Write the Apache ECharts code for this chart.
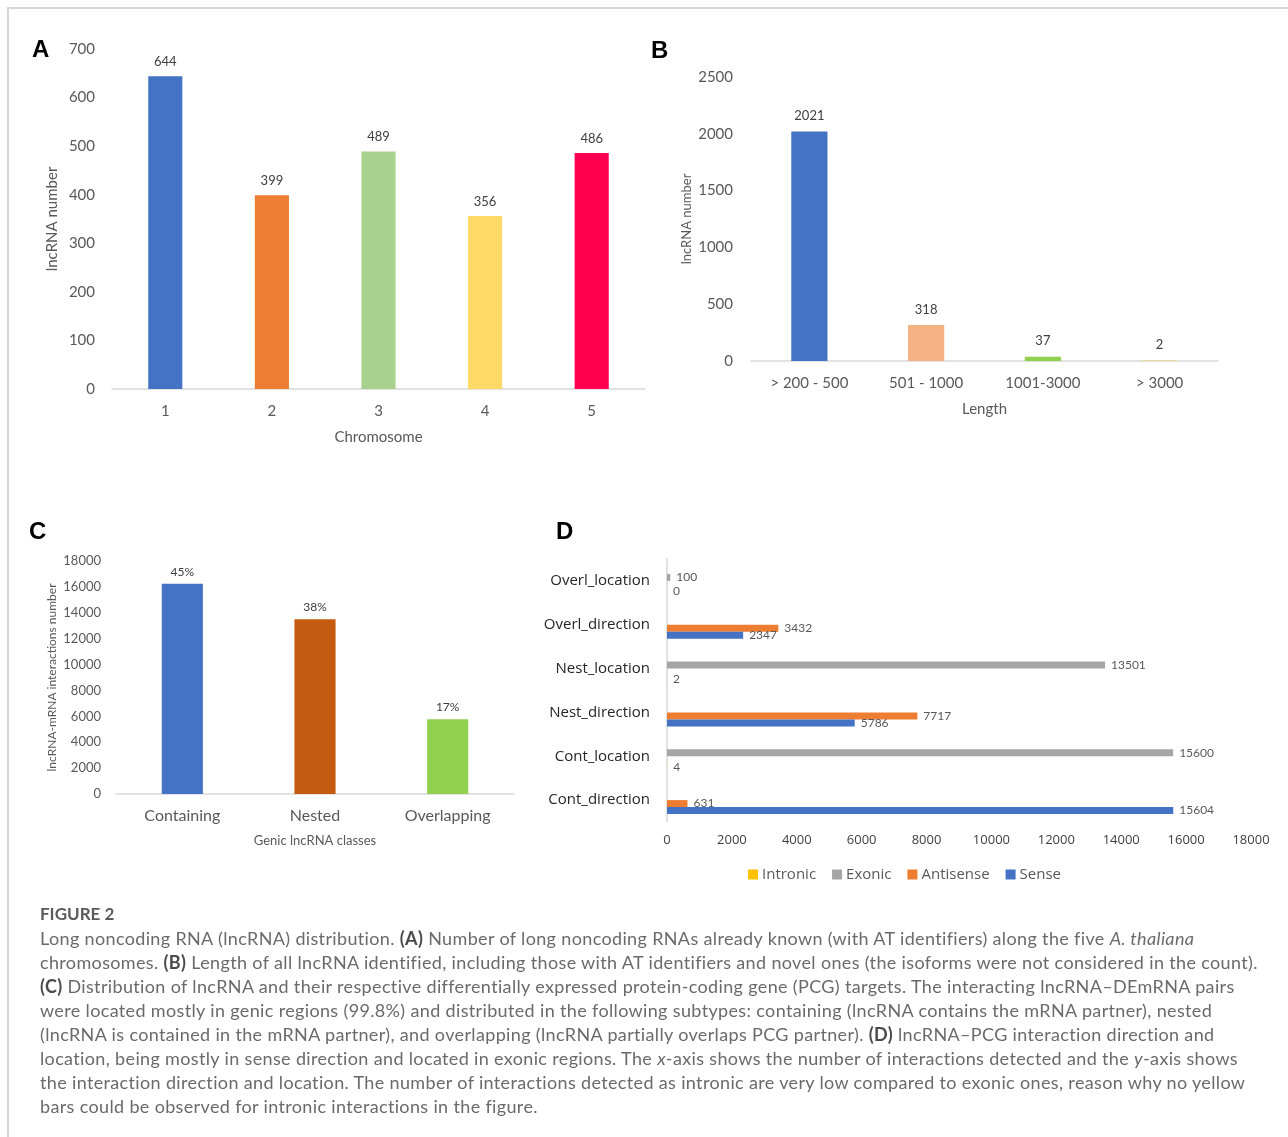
<!DOCTYPE html>
<html>
<head>
<meta charset="utf-8">
<script src="https://cdn.jsdelivr.net/npm/echarts@6/dist/echarts.min.js"></script>
<style>
  html, body { margin: 0; padding: 0; background: #fff; }
  #wrap { position: relative; width: 1288px; height: 1137px; overflow: hidden; }
  #frame { position: absolute; left: 7px; top: 7px; right: -10px; bottom: -10px;
           border-left: 2px solid #d6d6d6; border-top: 2px solid #d6d6d6; }
  #chart { position: absolute; left: 0; top: 0; width: 1288px; height: 1137px; }
  #caption { position: absolute; left: 40px; top: 902px; font-family: Lato, sans-serif;
             font-size: 18px; letter-spacing: 0.35px; line-height: 24px; color: #6a6a6a; white-space: nowrap; }
  #caption .fig { font-weight: 700; color: #5a5a5a; letter-spacing: 0; font-size: 17px; }
  #caption b { color: #4a4a4a; }
</style>
</head>
<body>
<div id="wrap">
  <div id="frame"></div>
  <div id="chart"></div>
  <div id="caption">
    <div class="fig">FIGURE 2</div>
    <div>Long noncoding RNA (lncRNA) distribution. <b>(A)</b> Number of long noncoding RNAs already known (with AT identifiers) along the five <i>A. thaliana</i></div>
    <div>chromosomes. <b>(B)</b> Length of all lncRNA identified, including those with AT identifiers and novel ones (the isoforms were not considered in the count).</div>
    <div><b>(C)</b> Distribution of lncRNA and their respective differentially expressed protein-coding gene (PCG) targets. The interacting lncRNA–DEmRNA pairs</div>
    <div>were located mostly in genic regions (99.8%) and distributed in the following subtypes: containing (lncRNA contains the mRNA partner), nested</div>
    <div>(lncRNA is contained in the mRNA partner), and overlapping (lncRNA partially overlaps PCG partner). <b>(D)</b> lncRNA–PCG interaction direction and</div>
    <div>location, being mostly in sense direction and located in exonic regions. The <i>x</i>-axis shows the number of interactions detected and the <i>y</i>-axis shows</div>
    <div>the interaction direction and location. The number of interactions detected as intronic are very low compared to exonic ones, reason why no yellow</div>
    <div>bars could be observed for intronic interactions in the figure.</div>
  </div>
</div>
<script>
// Panel A: lncRNAs per chromosome
const chromosomes = ['1', '2', '3', '4', '5'];
const chromosomeCounts = [644, 399, 489, 356, 486];
const chromosomeTicks = [0, 100, 200, 300, 400, 500, 600, 700];

// Panel B: lncRNA length classes
const lengthBins = ['> 200 - 500', '501 - 1000', '1001-3000', '> 3000'];
const lengthCounts = [2021, 318, 37, 2];
const lengthTicks = [0, 500, 1000, 1500, 2000, 2500];

// Panel C: genic lncRNA classes
const genicClasses = ['Containing', 'Nested', 'Overlapping'];
const genicInteractions = [16235, 13503, 5779];
const genicShares = ['45%', '38%', '17%'];
const genicTicks = [0, 2000, 4000, 6000, 8000, 10000, 12000, 14000, 16000, 18000];

// Panel D: interaction direction and location (top to bottom)
const interactionTypes = ['Overl_location', 'Overl_direction', 'Nest_location',
                          'Nest_direction', 'Cont_location', 'Cont_direction'];
const intronic  = [0, null, 2, null, 4, null];
const exonic    = [100, null, 13501, null, 15600, null];
const antisense = [null, 3432, null, 7717, null, 631];
const sense     = [null, 2347, null, 5786, null, 15604];
const interactionTicks = [0, 2000, 4000, 6000, 8000, 10000, 12000, 14000, 16000, 18000];

const colorsA = ['#4472C4', '#ED7D31', '#A9D18E', '#FFD966', '#FF0050'];
const colorsB = ['#4472C4', '#F4B183', '#92D050', '#FFC000'];
const colorsC = ['#4472C4', '#C55A11', '#92D050'];
const colD = { intronic: '#FFC000', exonic: '#A5A5A5', antisense: '#ED7D31', sense: '#4472C4' };

const FONT = 'Lato, sans-serif';
const FONT_D = '"Open Sans", sans-serif';
const tickGrey = '#595959';
const axisGrey = '#d9d9d9';
const plain = v => String(v);

function colored(values, colors) {
  return values.map((v, i) => ({ value: v, itemStyle: { color: colors[i] } }));
}
function range(ticks) {
  return { min: ticks[0], max: ticks[ticks.length - 1], interval: ticks[1] - ticks[0] };
}

function catAxis(gridIndex, data, opts) {
  return Object.assign({
    type: 'category', gridIndex, data,
    axisLine: { show: true, lineStyle: { color: axisGrey, width: 1.5 } },
    axisTick: { show: false },
    axisLabel: { color: tickGrey, fontFamily: FONT, fontSize: 15, margin: 15 },
    nameLocation: 'middle',
    nameTextStyle: { color: tickGrey, fontFamily: FONT, fontSize: 15 }
  }, opts);
}
function valAxis(gridIndex, ticks, opts) {
  const axis = Object.assign({
    type: 'value', gridIndex
  }, range(ticks), {
    axisLine: { show: false }, axisTick: { show: false }, splitLine: { show: false },
    axisLabel: { color: tickGrey, fontFamily: FONT, fontSize: 15, margin: 17 },
    nameLocation: 'middle',
    nameTextStyle: { color: tickGrey, fontFamily: FONT, fontSize: 15 }
  }, opts);
  axis.axisLabel = Object.assign({}, axis.axisLabel, { formatter: plain });
  return axis;
}

const chart = echarts.init(document.getElementById('chart'), null, { renderer: 'canvas' });

const panelLetter = (text, x, y) => ({
  type: 'text', left: x, top: y,
  style: { text, font: 'bold 24px "Liberation Sans", Arial, sans-serif', fill: '#000' }
});

chart.setOption({
  animation: false,
  textStyle: { fontFamily: FONT },
  graphic: [
    panelLetter('A', 32, 38),
    panelLetter('B', 651, 39),
    panelLetter('C', 29, 520),
    panelLetter('D', 556, 520)
  ],
  grid: [
    { left: 112, top: 49, width: 533, height: 340 },
    { left: 751, top: 77, width: 467, height: 284 },
    { left: 116, top: 561, width: 398, height: 233 },
    { left: 667, top: 559, width: 584, height: 263 }
  ],
  xAxis: [
    catAxis(0, chromosomes, { name: 'Chromosome', nameGap: 41 }),
    catAxis(1, lengthBins, { name: 'Length', nameGap: 41 }),
    catAxis(2, genicClasses, {
      name: 'Genic lncRNA classes', nameGap: 40,
      axisLabel: { color: tickGrey, fontFamily: FONT, fontSize: 16, margin: 14 },
      nameTextStyle: { color: tickGrey, fontFamily: FONT, fontSize: 13 }
    }),
    valAxis(3, interactionTicks, {
      axisLabel: { color: '#404040', fontFamily: FONT_D, fontSize: 13, margin: 12 }
    })
  ],
  yAxis: [
    valAxis(0, chromosomeTicks, { name: 'lncRNA number', nameGap: 52 }),
    valAxis(1, lengthTicks, {
      name: 'lncRNA number', nameGap: 58,
      axisLabel: { color: tickGrey, fontFamily: FONT, fontSize: 15, margin: 18 },
      nameTextStyle: { color: tickGrey, fontFamily: FONT, fontSize: 13 }
    }),
    valAxis(2, genicTicks, {
      name: 'lncRNA-mRNA interactions number', nameGap: 58,
      axisLabel: { color: tickGrey, fontFamily: FONT, fontSize: 13, margin: 15 },
      nameTextStyle: { color: tickGrey, fontFamily: FONT, fontSize: 12 }
    }),
    {
      type: 'category', gridIndex: 3, data: interactionTypes, inverse: true,
      axisLine: { show: true, lineStyle: { color: axisGrey, width: 1.5 } },
      axisTick: { show: false },
      axisLabel: { color: '#262626', fontFamily: FONT_D, fontSize: 15, margin: 17 }
    }
  ],
  legend: {
    left: 743, top: 862, itemWidth: 10, itemHeight: 10, itemGap: 16, icon: 'rect',
    data: ['Intronic', 'Exonic', 'Antisense', 'Sense'],
    textStyle: { color: tickGrey, fontFamily: FONT_D, fontSize: 15, padding: [0, 0, 0, -1] }
  },
  series: [
    {
      type: 'bar', xAxisIndex: 0, yAxisIndex: 0, barWidth: '32%',
      data: colored(chromosomeCounts, colorsA),
      label: { show: true, position: 'top', distance: 8, color: '#404040', fontFamily: FONT, fontSize: 13 }
    },
    {
      type: 'bar', xAxisIndex: 1, yAxisIndex: 1, barWidth: '31%',
      data: colored(lengthCounts, colorsB),
      label: { show: true, position: 'top', distance: 9, color: '#404040', fontFamily: FONT, fontSize: 13 }
    },
    {
      type: 'bar', xAxisIndex: 2, yAxisIndex: 2, barWidth: '31%',
      data: colored(genicInteractions, colorsC),
      label: {
        show: true, position: 'top', distance: 6, color: '#404040', fontFamily: FONT, fontSize: 12,
        formatter: p => genicShares[p.dataIndex]
      }
    },
    // Panel D: four slots per row, top slot left free
    {
      name: '_spacer', type: 'bar', xAxisIndex: 3, yAxisIndex: 3, barWidth: 7, barGap: '0%',
      data: interactionTypes.map(() => null)
    },
    {
      name: 'Exonic', type: 'bar', xAxisIndex: 3, yAxisIndex: 3, barWidth: 7, barGap: '0%',
      itemStyle: { color: colD.exonic }, data: exonic,
      label: { show: true, position: 'right', distance: 6, color: tickGrey, fontFamily: FONT, fontSize: 12 }
    },
    {
      name: 'Antisense', type: 'bar', xAxisIndex: 3, yAxisIndex: 3, barWidth: 7, barGap: '0%',
      itemStyle: { color: colD.antisense }, data: antisense,
      label: { show: true, position: 'right', distance: 6, color: tickGrey, fontFamily: FONT, fontSize: 12 }
    },
    {
      name: 'Sense', type: 'bar', stack: 'low', xAxisIndex: 3, yAxisIndex: 3, barWidth: 7, barGap: '0%',
      itemStyle: { color: colD.sense }, data: sense,
      label: { show: true, position: 'right', distance: 6, color: tickGrey, fontFamily: FONT, fontSize: 12 }
    },
    {
      name: 'Intronic', type: 'bar', stack: 'low', xAxisIndex: 3, yAxisIndex: 3, barWidth: 7, barGap: '0%',
      itemStyle: { color: colD.intronic }, data: intronic,
      label: { show: true, position: 'right', distance: 6, color: tickGrey, fontFamily: FONT, fontSize: 12 }
    }
  ]
});
</script>
</body>
</html>
